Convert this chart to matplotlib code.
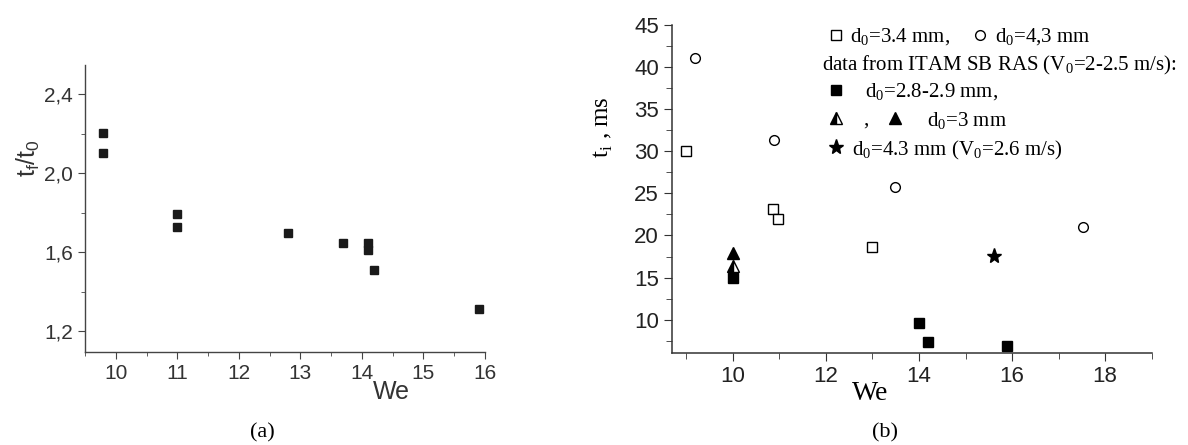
import matplotlib
matplotlib.use("Agg")
import matplotlib.pyplot as plt
from matplotlib.ticker import MultipleLocator, FormatStrFormatter, FuncFormatter

# panel (a): t_f/t_0 vs We
a_we = [9.8, 9.8, 11.0, 11.0, 12.8, 13.7, 14.1, 14.1, 14.2, 15.9]
a_t = [2.205, 2.103, 1.795, 1.725, 1.696, 1.644, 1.645, 1.61, 1.51, 1.311]

# panel (b): t_i [ms] vs We
open_sq_we = [9.0, 10.86, 10.98, 13.0]
open_sq_t = [30.0, 23.2, 21.9, 18.6]
open_ci_we = [9.18, 10.88, 13.49, 17.53]
open_ci_t = [41.1, 31.4, 25.8, 21.0]
fill_sq_we = [10.0, 14.0, 14.2, 15.89]
fill_sq_t = [15.0, 9.57, 7.39, 6.9]
half_tri_we = [10.0]
half_tri_t = [16.4]
fill_tri_we = [10.0]
fill_tri_t = [17.9]
star_we = [15.62]
star_t = [17.57]

W, H = 1188, 445
fig = plt.figure(figsize=(W / 100, H / 100), dpi=100)
serif = "Liberation Serif"
sans = "Liberation Sans"

# ---------------- (a)
ax1 = fig.add_axes([85 / W, 1 - 352 / H, 400 / W, 287 / H])
gray = "#444444"
ax1.plot(a_we, a_t, "s", color="#1a1a1a", markersize=6.3)
ax1.set_xlim(9.5, 16)
ax1.set_ylim(1.094, 2.548)
ax1.xaxis.set_major_locator(MultipleLocator(1))
ax1.xaxis.set_minor_locator(MultipleLocator(0.5))
ax1.yaxis.set_major_locator(MultipleLocator(0.4))
ax1.yaxis.set_minor_locator(MultipleLocator(0.2))
ax1.yaxis.set_major_formatter(FuncFormatter(lambda v, p: f"{v:.1f}".replace(".", ",")))
for s in ("top", "right"):
    ax1.spines[s].set_visible(False)
for s in ("left", "bottom"):
    ax1.spines[s].set_color(gray)
    ax1.spines[s].set_linewidth(1.0)
ax1.tick_params(which="both", direction="out", color=gray, labelcolor="#333333")
ax1.tick_params(which="major", length=5, labelsize=15)
ax1.tick_params(which="minor", length=3)
for lab in ax1.get_xticklabels() + ax1.get_yticklabels():
    lab.set_family(sans)
ax1.text(0.765, -0.14, "We", transform=ax1.transAxes, ha="center", va="center",
         fontsize=18, family=sans, color="#333333")
ax1.text(-0.142, 0.676, r"t$_\mathregular{f}$/t$_\mathregular{0}$", transform=ax1.transAxes,
         ha="center", va="center", rotation=90, fontsize=18, family=sans, color="#333333")
fig.text(262 / W, 1 - 433 / H, "(a)", ha="center", va="center", fontsize=16, family=serif)

# ---------------- (b)
ax2 = fig.add_axes([672.3 / W, 1 - 352.7 / H, 479.4 / W, 327.7 / H])
k = "black"
ax2.plot(open_sq_we, open_sq_t, "s", mfc="white", mec=k, mew=1.0, markersize=7)
ax2.plot(open_ci_we, open_ci_t, "o", mfc="white", mec=k, mew=1.0, markersize=7)
ax2.plot(fill_sq_we, fill_sq_t, "s", color=k, markersize=7.5)
ax2.plot(half_tri_we, half_tri_t, "^", fillstyle="left", mfc=k, mfcalt="white", mec=k,
         mew=1.0, markersize=9)
ax2.plot(fill_tri_we, fill_tri_t, "^", color=k, markersize=9)
ax2.plot(star_we, star_t, "*", color=k, markersize=11)
ax2.set_xlim(8.7, 19.0)
ax2.set_ylim(6.08, 45)
ax2.xaxis.set_major_locator(MultipleLocator(2))
ax2.xaxis.set_minor_locator(MultipleLocator(1))
ax2.yaxis.set_major_locator(MultipleLocator(5))
ax2.yaxis.set_minor_locator(MultipleLocator(2.5))
ax2.yaxis.set_major_formatter(FormatStrFormatter("%d"))
for s in ("top", "right"):
    ax2.spines[s].set_visible(False)
for s in ("left", "bottom"):
    ax2.spines[s].set_color("#333333")
    ax2.spines[s].set_linewidth(1.1)
ax2.tick_params(which="both", direction="out", color="#333333", labelcolor="#222222")
ax2.tick_params(which="major", length=6, labelsize=16)
ax2.tick_params(which="minor", length=4)
for lab in ax2.get_xticklabels() + ax2.get_yticklabels():
    lab.set_family(sans)
ax2.text(0.412, -0.126, "We", transform=ax2.transAxes, ha="center", va="center",
         fontsize=20, family=serif)
ax2.text(-0.1446, 0.689, r"t$_\mathregular{i}$ , ms", transform=ax2.transAxes,
         ha="center", va="center", rotation=90, fontsize=18, family=serif)
fig.text(885 / W, 1 - 433 / H, "(b)", ha="center", va="center", fontsize=16, family=serif)

# legend of (b), drawn in axes fraction
sub = r"$_\mathregular{0}$"
tr = ax2.transAxes
rows = [0.9695, 0.8871, 0.8016, 0.7162, 0.6277]
lfs = 15
def mk(x, y, **kw):
    ax2.plot([x], [y], transform=tr, clip_on=False, **kw)
def tx(x, y, s):
    ax2.text(x, y, s, transform=tr, ha="left", va="center_baseline", fontsize=lfs, family=serif)

mk(0.3415, rows[0], marker="s", mfc="white", mec=k, mew=1.0, markersize=7)
tx(0.370, rows[0], "d" + sub + "=3.4 mm,")
mk(0.642, rows[0], marker="o", mfc="white", mec=k, mew=1.0, markersize=7)
tx(0.673, rows[0], "d" + sub + "=4,3 mm")
tx(0.312, rows[1], "data from ITAM SB RAS (V" + sub + "=2-2.5 m/s):")
mk(0.3415, rows[2], marker="s", color=k, markersize=7.5)
tx(0.402, rows[2], "d" + sub + "=2.8-2.9 mm,")
mk(0.3415, rows[3], marker="^", fillstyle="left", mfc=k, mfcalt="white", mec=k, mew=1.0, markersize=9)
tx(0.398, rows[3], ",")
mk(0.4645, rows[3], marker="^", color=k, markersize=9)
tx(0.531, rows[3], "d" + sub + "=3 mm")
mk(0.3415, rows[4], marker="*", color=k, markersize=11)
tx(0.374, rows[4], "d" + sub + "=4.3 mm (V" + sub + "=2.6 m/s)")

fig.savefig("out.png", dpi=100)
